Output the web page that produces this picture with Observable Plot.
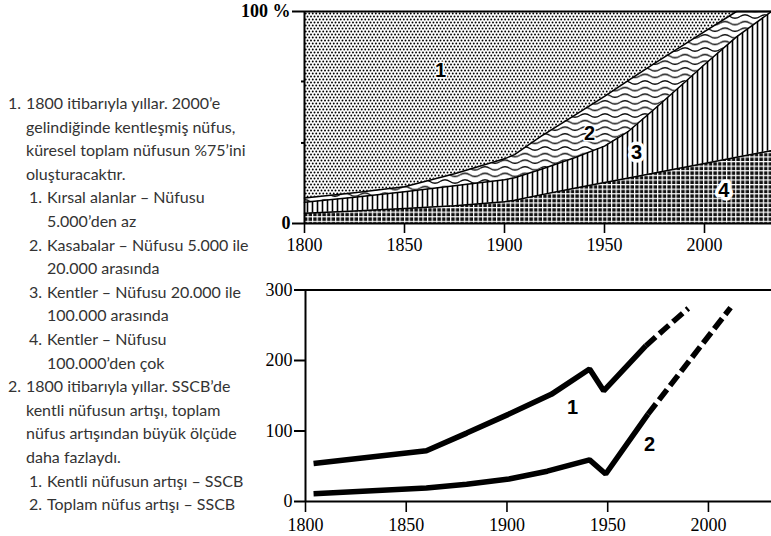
<!DOCTYPE html>
<html><head><meta charset="utf-8">
<script src="https://cdn.jsdelivr.net/npm/d3@7"></script>
<script src="https://cdn.jsdelivr.net/npm/@observablehq/plot@0.6"></script>
<style>
html,body{margin:0;padding:0;background:#fff;}
#page{position:relative;width:771px;height:536px;overflow:hidden;background:#fff;}
#notes{position:absolute;left:0;top:91px;width:262px;font-family:Lato,"Open Sans",sans-serif;font-size:16px;line-height:23.6px;color:#333;white-space:nowrap;z-index:2;}
.item{position:relative;padding-left:26px;}
.item>.num{position:absolute;left:8px;top:0;}
.sub{position:relative;padding-left:47px;}
.sub>.num{position:absolute;left:29px;top:0;}
#top{position:absolute;left:220px;top:0;z-index:1;}
#bottom{position:absolute;left:220px;top:260px;z-index:1;}
</style></head>
<body><div id="page">
<div id="notes">
 <div class="item"><span class="num">1.</span>1800 itibarıyla yıllar. 2000’e<br>gelindiğinde kentleşmiş nüfus,<br>küresel toplam nüfusun %75’ini<br>oluşturacaktır.</div>
 <div class="sub"><span class="num">1.</span>Kırsal alanlar – Nüfusu<br>5.000’den az</div>
 <div class="sub"><span class="num">2.</span>Kasabalar – Nüfusu 5.000 ile<br>20.000 arasında</div>
 <div class="sub"><span class="num">3.</span>Kentler – Nüfusu 20.000 ile<br>100.000 arasında</div>
 <div class="sub"><span class="num">4.</span>Kentler – Nüfusu<br>100.000’den çok</div>
 <div class="item"><span class="num">2.</span>1800 itibarıyla yıllar. SSCB’de<br>kentli nüfusun artışı, toplam<br>nüfus artışından büyük ölçüde<br>daha fazlaydı.</div>
 <div class="sub"><span class="num">1.</span>Kentli nüfusun artışı – SSCB</div>
 <div class="sub"><span class="num">2.</span>Toplam nüfus artışı – SSCB</div>
</div>
<div id="top"></div><div id="bottom"></div>
</div>
<script>
// ---------- Top chart: cumulative share of world population (%) ----------
const topYears      = [1800, 1825, 1850, 1875, 1900, 1905, 1918, 1935, 1950, 1962, 1975, 1990, 2000, 2016, 2033.5];
const bigCitiesTop  = [4.8, 5.9, 7.1, 8.4, 10.3, 11, 13.5, 16.6, 19.3, 21.5, 23.8, 26.5, 28.3, 31.2, 34.4]; // 4: >100.000
const citiesTop     = [10, 12.4, 15, 17.8, 20.6, 21.6, 25.5, 31, 36.5, 43.5, 54, 66.5, 75, 88, 100];       // 3: 20.000–100.000
const townsTop      = [12, 14.5, 17.3, 23.5, 30.5, 32.5, 41, 51, 60, 67.5, 75.5, 84.5, 90.5, 100, 100];     // 2: 5.000–20.000
const yearTicks     = [1800, 1850, 1900, 1950, 2000];
const topLabels     = [
  {text: "1", year: 1868, v: 72},
  {text: "2", year: 1942.5, v: 42.3},
  {text: "3", year: 1966, v: 33.6},
  {text: "4", year: 2009.7, v: 15.6}
];

// ---------- Bottom chart: USSR growth index ----------
const urbanYears      = [1804, 1860, 1880, 1901, 1922, 1941, 1948, 1969];
const urbanValues     = [54, 72, 97, 124, 152, 188, 157, 221];
const urbanProjYears  = [1969, 1978, 1990];
const urbanProjValues = [221, 244, 274];
const totalYears      = [1804, 1860, 1880, 1901, 1920, 1941, 1949, 1970];
const totalValues     = [11, 19, 24.5, 32, 43, 59, 39, 124];
const totalProjYears  = [1970, 2011];
const totalProjValues = [124, 275];
const valueTicks      = [0, 100, 200, 300];
const bottomLabels    = [
  {text: "1", year: 1932.6, v: 133},
  {text: "2", year: 1970.8, v: 81}
];

const rows = topYears.map((year, i) => ({year, b4: bigCitiesTop[i], b3: citiesTop[i], b2: townsTop[i]}));
const zip = (xs, ys) => xs.map((x, i) => ({year: x, v: ys[i]}));

const serif = "'Liberation Serif', 'DejaVu Serif', serif";
const sans = "'Liberation Sans', Arial, sans-serif";

const topPlot = Plot.plot({
  width: 551, height: 255,
  marginLeft: 84, marginRight: 0, marginTop: 11, marginBottom: 32,
  style: {fontFamily: serif, fontSize: "18px", color: "#000", background: "transparent", overflow: "visible"},
  x: {domain: [1800, 2033.5]},
  y: {domain: [0, 100]},
  marks: [
    Plot.areaY(rows, {x: "year", y1: 0, y2: "b4", fill: "url(#grid)", curve: "linear"}),
    Plot.areaY(rows, {x: "year", y1: "b4", y2: "b3", fill: "url(#vert)", curve: "linear"}),
    Plot.areaY(rows, {x: "year", y1: "b3", y2: "b2", fill: "url(#wave)", curve: "linear"}),
    Plot.areaY(rows, {x: "year", y1: "b2", y2: 100, fill: "url(#stip)", curve: "linear"}),
    Plot.lineY(rows, {x: "year", y: "b4", stroke: "#000", strokeWidth: 1.5}),
    Plot.lineY(rows, {x: "year", y: "b3", stroke: "#000", strokeWidth: 1.5}),
    Plot.lineY(rows, {x: "year", y: "b2", stroke: "#000", strokeWidth: 1.5}),
    Plot.ruleY([0], {stroke: "#000", strokeWidth: 2}),
    Plot.ruleY([100], {stroke: "#000", strokeWidth: 2}),
    Plot.ruleX([1800], {stroke: "#000", strokeWidth: 2}),
    Plot.axisX({ticks: yearTicks, tickFormat: d => String(d), tickSize: 10, tickPadding: 5, strokeWidth: 1.6, label: null, fontSize: 18}),
    Plot.axisY({ticks: [0, 100], tickFormat: d => d === 100 ? "100 %" : "0", tickSize: 12, tickPadding: 2, strokeWidth: 2, fontWeight: "bold", label: null, fontSize: 18}),
    Plot.axisY({ticks: [38, 67], tickFormat: () => "", tickSize: 3, strokeWidth: 2, label: null}),
    Plot.text(topLabels, {x: "year", y: "v", text: "text", fontFamily: sans, fontWeight: "bold", fontSize: 20, fill: "#000", stroke: "#fff", strokeWidth: d => (d.text === "3" || d.text === "4") ? 7 : 3, paintOrder: "stroke"})
  ]
});

// patterns
{
  const svg = d3.select(topPlot);
  const defs = svg.insert("defs", ":first-child");
  // stipple
  const p1 = defs.append("pattern").attr("id", "stip").attr("patternUnits", "userSpaceOnUse").attr("width", 7).attr("height", 6);
  p1.append("rect").attr("width", 7).attr("height", 6).attr("fill", "#fff");
  [[1.75, 1.5], [5.25, 1.5], [0, 4.5], [3.5, 4.5], [7, 4.5]].forEach(([cx, cy]) =>
    p1.append("circle").attr("cx", cx).attr("cy", cy).attr("r", 0.95).attr("fill", "#000"));
  // waves
  const p2 = defs.append("pattern").attr("id", "wave").attr("patternUnits", "userSpaceOnUse").attr("width", 20).attr("height", 6.6);
  p2.append("rect").attr("width", 20).attr("height", 6.6).attr("fill", "#fff");
  p2.append("path").attr("d", "M0,3.3 Q5,0 10,3.3 T20,3.3").attr("fill", "none").attr("stroke", "#000").attr("stroke-width", 1.2);
  // vertical lines
  const p3 = defs.append("pattern").attr("id", "vert").attr("patternUnits", "userSpaceOnUse").attr("width", 5).attr("height", 10);
  p3.append("rect").attr("width", 5).attr("height", 10).attr("fill", "#fff");
  p3.append("rect").attr("x", 1.7).attr("width", 1.6).attr("height", 10).attr("fill", "#000");
  // grid
  const g = 4.6;
  const p4 = defs.append("pattern").attr("id", "grid").attr("patternUnits", "userSpaceOnUse").attr("width", g).attr("height", g);
  p4.append("rect").attr("width", g).attr("height", g).attr("fill", "#111");
  p4.append("rect").attr("width", 1.2).attr("height", g).attr("fill", "#fff");
  p4.append("rect").attr("width", g).attr("height", 1.2).attr("fill", "#fff");
}
document.getElementById("top").appendChild(topPlot);

const bottomPlot = Plot.plot({
  width: 551, height: 276,
  marginLeft: 85, marginRight: 0, marginTop: 29.5, marginBottom: 35,
  style: {fontFamily: serif, fontSize: "18px", color: "#000", background: "transparent", overflow: "visible"},
  x: {domain: [1800, 2031.3]},
  y: {domain: [0, 300]},
  marks: [
    Plot.ruleY([0], {stroke: "#000", strokeWidth: 2}),
    Plot.ruleY([300], {stroke: "#000", strokeWidth: 2}),
    Plot.ruleX([1800], {stroke: "#000", strokeWidth: 2}),
    Plot.line(zip(urbanYears, urbanValues), {x: "year", y: "v", stroke: "#000", strokeWidth: 5.5, strokeLinejoin: "miter", strokeLinecap: "butt"}),
    Plot.line(zip(urbanProjYears, urbanProjValues), {x: "year", y: "v", stroke: "#000", strokeWidth: 5.5, strokeDasharray: "13,5", strokeLinecap: "butt", curve: "catmull-rom"}),
    Plot.line(zip(totalYears, totalValues), {x: "year", y: "v", stroke: "#000", strokeWidth: 5.5, strokeLinejoin: "miter", strokeLinecap: "butt"}),
    Plot.line(zip(totalProjYears, totalProjValues), {x: "year", y: "v", stroke: "#000", strokeWidth: 5.5, strokeDasharray: "13,5", strokeLinecap: "butt"}),
    Plot.axisX({ticks: yearTicks, tickFormat: d => String(d), tickSize: 11, tickPadding: 6, strokeWidth: 1.6, label: null, fontSize: 18}),
    Plot.axisY({ticks: valueTicks, tickFormat: d => String(d), tickSize: 11, tickPadding: 2, strokeWidth: 2, label: null, fontSize: 18}),
    Plot.text(bottomLabels, {x: "year", y: "v", text: "text", fontFamily: sans, fontWeight: "bold", fontSize: 20, fill: "#000"})
  ]
});
document.getElementById("bottom").appendChild(bottomPlot);
</script>
</body></html>
